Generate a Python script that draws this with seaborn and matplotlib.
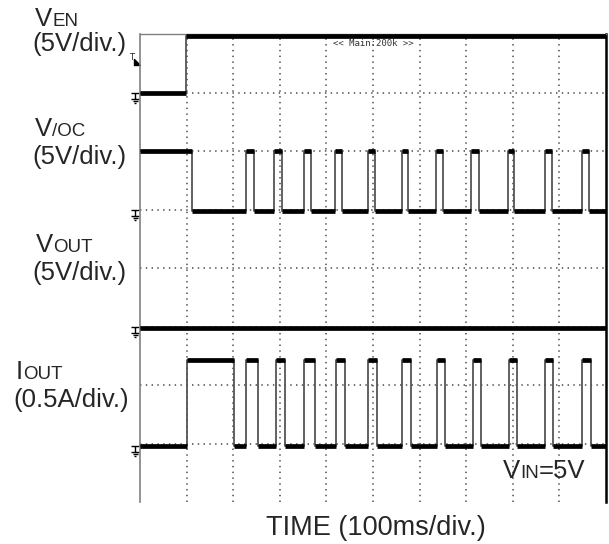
import matplotlib
matplotlib.use("Agg")
import matplotlib.pyplot as plt
from matplotlib.path import Path
from matplotlib.transforms import IdentityTransform
import seaborn as sns

# time base: 100 ms/div, 10 div on screen
t_end = 1000

# VEN step (V)
ven_rise = 98
ven_low, ven_high = 0.0, 4.85

# V/OC (V): high until fault, then short pulses (ms)
voc_fall = 111
voc_on = [228, 288, 351, 419, 490, 562, 635, 711, 789, 869, 949]
voc_off = [244, 304, 368, 434, 505, 576, 651, 728, 803, 884, 964]
voc_low, voc_high = -0.15, 5.0

# VOUT (V) stays at 0
vout_level = -0.15

# IOUT (A): first long burst, then hiccup pulses
iout_first = [100, 202]
iout_on = [228, 291, 353, 420, 490, 562, 637, 714, 791, 869, 949]
iout_off = [253, 312, 375, 440, 509, 582, 655, 732, 809, 887, 968]
iout_low, iout_high = 0.0, 0.735

# ground position on screen (div) and vertical scale (unit/div)
ground = {"VEN": 7.0, "VOC": 5.0, "VOUT": 3.0, "IOUT": 0.95}
scale = {"VEN": 5, "VOC": 5, "VOUT": 5, "IOUT": 0.5}
trig_level = 2.75  # V on VEN


def pulses(on, off, lo, hi):
    t, v = [], []
    for a, b in zip(on, off):
        t += [a, b]
        v += [hi, lo]
    return t, v


traces = {}
traces["VEN"] = ([0, ven_rise, t_end], [ven_low, ven_high, ven_high])
pt, pv = pulses(voc_on, voc_off, voc_low, voc_high)
traces["VOC"] = ([0, voc_fall] + pt + [t_end], [voc_high, voc_low] + pv + [voc_low])
traces["VOUT"] = ([0, t_end], [vout_level, vout_level])
pt, pv = pulses(iout_on, iout_off, iout_low, iout_high)
traces["IOUT"] = ([0] + iout_first + pt + [t_end], [iout_low, iout_high, iout_low] + pv + [iout_low])

sns.set_style("white")
plt.rcParams["font.family"] = ["Liberation Sans", "DejaVu Sans"]

W, H = 609, 544
fig = plt.figure(figsize=(W / 100, H / 100), dpi=100)
ax = fig.add_axes([140 / W, (H - 502) / H, (606 - 140) / W, (502 - 34) / H])

for name, (t, v) in traces.items():
    pos = [ground[name] + x / scale[name] for x in v]
    sns.lineplot(x=t, y=pos, drawstyle="steps-post", color="#555555", lw=1.3,
                 estimator=None, sort=False, ax=ax, zorder=3)
    ax.hlines(pos[:-1], t[:-1], t[1:], lw=3.4, color="black", zorder=4)

ax.set_xlim(0, t_end)
ax.set_ylim(0, 8)
ax.set_xticks(range(100, t_end, 100))
ax.set_yticks(range(1, 8))
ax.tick_params(length=0, labelbottom=False, labelleft=False)
ax.grid(True, color="#666666", lw=1.3, linestyle=(0, (0.8, 2.4)))
ax.set_xlabel("")
ax.set_ylabel("")
ax.spines["bottom"].set_visible(False)
ax.spines["left"].set_color("#808080")
ax.spines["left"].set_linewidth(1.2)
ax.spines["top"].set_color("#808080")
ax.spines["top"].set_linewidth(1.0)
ax.spines["right"].set_color("black")
ax.spines["right"].set_linewidth(1.8)

# ground markers
M, L = Path.MOVETO, Path.LINETO
gnd = Path([(-4, 0), (4, 0), (0, 0), (0, -6), (-4, -6), (4, -6),
            (-2.5, -8), (2.5, -8), (-1, -10), (1, -10)],
           [M, L, M, L, M, L, M, L, M, L])
ax.plot([-10] * 4, list(ground.values()), ls="none", marker=gnd, ms=14.4,
        mfc="none", mec="black", mew=1, clip_on=False)

# trigger marker on VEN
ty = ground["VEN"] + trig_level / scale["VEN"]
ax.text(-19, ty + 0.05, "T", fontsize=6, ha="center", va="center",
        family="DejaVu Sans", clip_on=False)
tri = Path([(-1, 1), (-1, -1), (1, -1), (-1, 1)], [M, L, L, Path.CLOSEPOLY])
ax.plot([-6], [ty - 0.03], ls="none", marker=tri, ms=5, color="black", clip_on=False)

ax.text(414, 7.83, "<< Main:200k >>", fontsize=6.5, family="DejaVu Sans Mono",
        color="#333333", va="center", ha="left")

r = fig.canvas.get_renderer()


def mixed(x, y, parts):
    for s, size in parts:
        t = fig.text(x, H - y, s, fontsize=size, transform=IdentityTransform(),
                     ha="left", va="baseline")
        x = t.get_window_extent(r).x1


big, small = 18.5, 13.5
mixed(35, 26, [("V", big), ("EN", small)])
mixed(32, 51, [("(5V/div.)", big)])
mixed(35, 136, [("V", big), ("/OC", small)])
mixed(32, 164, [("(5V/div.)", big)])
mixed(36, 252, [("V", big), ("OUT", small)])
mixed(32, 280, [("(5V/div.)", big)])
mixed(16, 379, [("I", big), ("OUT", small)])
mixed(13, 407, [("(0.5A/div.)", big)])
mixed(503, 478, [("V", big), ("IN", small), ("=5V", big)])

fig.text(376, H - 535, "TIME (100ms/div.)", fontsize=19.5, ha="center",
         va="baseline", transform=IdentityTransform())

fig.savefig("out.png", dpi=100)
